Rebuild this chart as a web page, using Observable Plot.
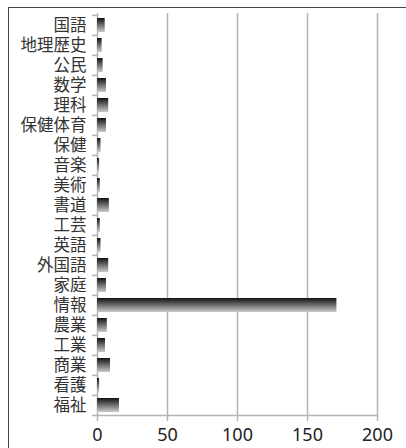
<!DOCTYPE html>
<html>
<head>
<meta charset="utf-8">
<script src="https://cdn.jsdelivr.net/npm/d3@7"></script>
<script src="https://cdn.jsdelivr.net/npm/@observablehq/plot@0.6"></script>
<style>
  html, body { margin: 0; padding: 0; background: #fff; overflow: hidden; }
  #wrap { position: relative; width: 406px; height: 448px; }
  #border { position: absolute; left: 8px; top: 7px; width: 600px; height: 600px;
            border-left: 1.5px solid #444; border-top: 1.5px solid #444; box-sizing: border-box; }
  #chart { position: absolute; left: 0; top: 0; }
</style>
</head>
<body>
<div id="wrap"><div id="border"></div><div id="chart"></div></div>
<script>
const categories = ["国語","地理歴史","公民","数学","理科","保健体育","保健","音楽","美術","書道","工芸","英語","外国語","家庭","情報","農業","工業","商業","看護","福祉"];
const values = [5.5, 3.3, 4, 6.4, 8, 6.4, 2.5, 1.5, 2, 8.5, 2, 2.5, 8, 6.4, 171, 7, 5.7, 9.3, 1.5, 15.7];
const xTicks = [0, 50, 100, 150, 200];

const data = categories.map((c, i) => ({category: c, value: values[i]}));
const marginTop = 13, marginBottom = 32, H = 448;
const step = (H - marginTop - marginBottom) / categories.length;
const pxPerUnit = (406 - 97 - 29) / 200;
const grey = "#b4b4b4";

const chart = Plot.plot({
  width: 406,
  height: H,
  marginLeft: 97,
  marginRight: 29,
  marginTop,
  marginBottom,
  style: {fontFamily: "'Liberation Sans', 'Noto Sans CJK JP', sans-serif", background: "transparent", color: "#222"},
  x: {domain: [0, 200], ticks: xTicks, label: null},
  y: {domain: categories, paddingInner: 0.3, paddingOuter: 0.15, label: null},
  marks: [
    Plot.ruleX(xTicks, {stroke: grey, strokeWidth: 1.5}),
    Plot.ruleY([categories[categories.length - 1]], {x1: -5 / pxPerUnit, x2: 200, dy: step / 2, stroke: grey, strokeWidth: 1.5}),
    Plot.ruleY(categories, {x1: -5 / pxPerUnit, x2: 0, dy: -step / 2, stroke: grey, strokeWidth: 1.5}),
    Plot.barX(data, {x: "value", y: "category", fill: "url(#barGrad)"}),
    Plot.axisX({ticks: xTicks, tickSize: 5, tickPadding: 7, stroke: grey, strokeWidth: 1.5, fontSize: 18, fontFamily: "'Noto Sans', sans-serif", fill: "#222", label: null}),
    Plot.axisY({tickSize: 0, tickPadding: 11, fontSize: 16.5, fill: "#333", label: null})
  ]
});

const defs = d3.select(chart).insert("defs", ":first-child");
const g = defs.append("linearGradient").attr("id", "barGrad").attr("x1", 0).attr("y1", 0).attr("x2", 0).attr("y2", 1);
g.append("stop").attr("offset", "0").attr("stop-color", "#111");
g.append("stop").attr("offset", "1").attr("stop-color", "#cacaca");

document.getElementById("chart").appendChild(chart);
</script>
</body>
</html>
